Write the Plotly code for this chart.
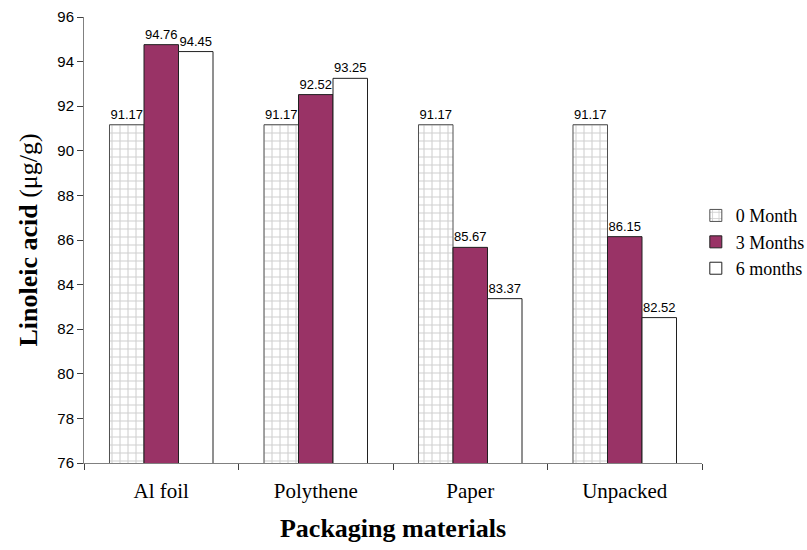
import plotly.graph_objects as go

categories = ["Al foil", "Polythene", "Paper", "Unpacked"]
month0 = [91.17, 91.17, 91.17, 91.17]
month3 = [94.76, 92.52, 85.67, 86.15]
month6 = [94.45, 93.25, 83.37, 82.52]
series_names = ["0 Month", "3 Months", "6 months"]
y_ticks = list(range(76, 97, 2))

SERIF = "Liberation Serif, Times New Roman"
SANS = "Liberation Sans, Arial"

fig = go.Figure()
label_font = dict(family=SANS, size=13, color="black")

fig.add_trace(go.Bar(
    x=categories, y=month0, name=series_names[0],
    marker=dict(color="white", line=dict(color="#505050", width=1),
                pattern=dict(shape="+", fgcolor="#a0a0a0", bgcolor="white", size=8, solidity=0.25)),
    text=[f"{v:.2f}" for v in month0], textposition="outside", textfont=label_font,
    cliponaxis=False,
))
fig.add_trace(go.Bar(
    x=categories, y=month3, name=series_names[1],
    marker=dict(color="#993366", line=dict(color="#202020", width=1)),
    text=[f"{v:.2f}" for v in month3], textposition="outside", textfont=label_font,
    cliponaxis=False,
))
fig.add_trace(go.Bar(
    x=categories, y=month6, name=series_names[2],
    marker=dict(color="white", line=dict(color="#202020", width=1)),
    text=[f"{v:.2f}" for v in month6], textposition="outside", textfont=label_font,
    cliponaxis=False,
))

fig.update_layout(
    width=807, height=550,
    margin=dict(l=84, r=105, t=17, b=87, autoexpand=False),
    paper_bgcolor="white", plot_bgcolor="white",
    barmode="group", bargap=0.33, bargroupgap=0,
    showlegend=True,
    legend=dict(x=0.99, xanchor="left", y=0.495, yanchor="middle",
                font=dict(family=SERIF, size=18, color="black"),
                bgcolor="rgba(0,0,0,0)", itemwidth=30, tracegroupgap=0),
)
fig.update_xaxes(
    showline=True, linecolor="#808080", linewidth=1,
    ticks="outside", ticklen=6, tickcolor="#404040",
    tickson="boundaries", ticklabelstandoff=9,
    tickfont=dict(family=SERIF, size=21, color="black"),
    title=dict(text="<b>Packaging materials</b>", standoff=16,
               font=dict(family=SERIF, size=26, color="black")),
    showgrid=False,
)
fig.update_yaxes(
    range=[76, 96], tickvals=y_ticks,
    showline=True, linecolor="#808080", linewidth=1,
    ticks="outside", ticklen=6, tickcolor="#404040",
    tickfont=dict(family=SANS, size=15, color="black"),
    title=dict(text="<b>Linoleic acid</b> (μg/g)", standoff=12,
               font=dict(family=SERIF, size=26, color="black")),
    showgrid=False, zeroline=False,
)

fig.write_html("out.html")
